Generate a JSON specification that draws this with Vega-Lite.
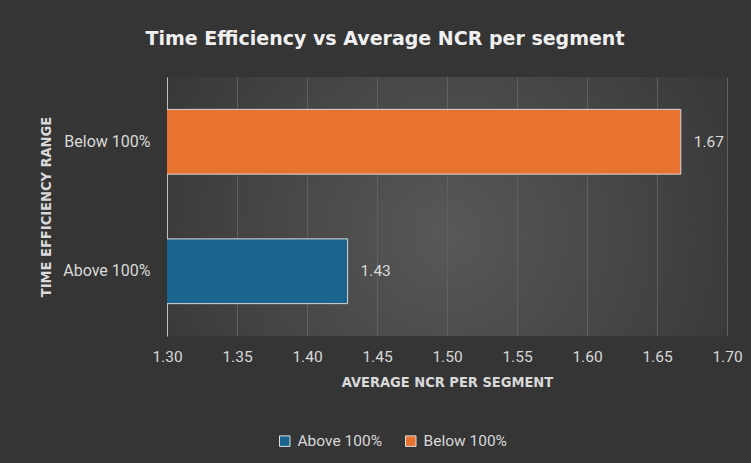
{
  "$schema": "https://vega.github.io/schema/vega-lite/v6.json",
  "width": 560,
  "height": 259,
  "autosize": {"type": "none"},
  "padding": {"left": 167, "top": 77, "right": 24, "bottom": 127},
  "background": "#353535",
  "config": {
    "font": "Roboto",
    "view": {
      "stroke": null,
      "fill": {
        "gradient": "radial",
        "x1": 0.5, "y1": 0.55, "r1": 0,
        "x2": 0.5, "y2": 0.55, "r2": 0.62,
        "stops": [
          {"offset": 0, "color": "#585858"},
          {"offset": 1, "color": "#353535"}
        ]
      }
    }
  },
  "title": {
    "text": "Time Efficiency vs Average NCR per segment",
    "font": "DejaVu Sans",
    "fontSize": 19,
    "fontWeight": "bold",
    "color": "#f0f0f0",
    "anchor": "middle",
    "dx": -62,
    "offset": 28
  },
  "data": {
    "values": [
      {"range": "Below 100%", "ncr": 1.667},
      {"range": "Above 100%", "ncr": 1.429}
    ]
  },
  "encoding": {
    "y": {
      "field": "range",
      "type": "nominal",
      "sort": ["Below 100%", "Above 100%"],
      "scale": {"paddingInner": 0.5, "paddingOuter": 0.25},
      "axis": {
        "title": "TIME EFFICIENCY RANGE",
        "titleFont": "DejaVu Sans Condensed, Roboto",
        "titleFontSize": 14.5,
        "titleFontWeight": "bold",
        "titleColor": "#d9d9d9",
        "titlePadding": 9,
        "labelFont": "Roboto",
        "labelFontSize": 16,
        "labelColor": "#d9d9d9",
        "labelPadding": 17,
        "ticks": false,
        "domain": true,
        "domainColor": "#bfbfbf",
        "domainWidth": 1,
        "grid": false
      }
    },
    "x": {
      "field": "ncr",
      "type": "quantitative",
      "scale": {"domain": [1.3, 1.7], "zero": false, "nice": false},
      "axis": {
        "title": "AVERAGE NCR PER SEGMENT",
        "titleFont": "DejaVu Sans Condensed, Roboto",
        "titleFontSize": 14.5,
        "titleFontWeight": "bold",
        "titleColor": "#d9d9d9",
        "titlePadding": 11,
        "values": [1.3, 1.35, 1.4, 1.45, 1.5, 1.55, 1.6, 1.65, 1.7],
        "format": ".2f",
        "labelFont": "Roboto",
        "labelFontSize": 15.5,
        "labelColor": "#d9d9d9",
        "labelPadding": 13,
        "labelFlush": false,
        "ticks": false,
        "domain": false,
        "grid": true,
        "gridColor": "#606060",
        "gridWidth": 1
      }
    }
  },
  "layer": [
    {
      "mark": {"type": "bar", "stroke": "#d8d8d8", "strokeWidth": 1, "clip": true},
      "encoding": {
        "color": {
          "field": "range",
          "type": "nominal",
          "scale": {"domain": ["Above 100%", "Below 100%"], "range": ["#1a6590", "#e8722f"]},
          "legend": {
            "title": null,
            "orient": "none",
            "legendX": 110,
            "legendY": 356,
            "direction": "horizontal",
            "symbolType": "square",
            "symbolSize": 110,
            "symbolStrokeColor": "#e0e0e0",
            "symbolStrokeWidth": 1,
            "symbolOpacity": 1,
            "labelFont": "Roboto",
            "labelFontSize": 15.5,
            "labelColor": "#d9d9d9",
            "labelOffset": 5,
            "columnPadding": 20
          }
        }
      }
    },
    {
      "mark": {"type": "text", "align": "left", "dx": 13, "fontSize": 15.5, "font": "Roboto", "color": "#d9d9d9"},
      "encoding": {
        "text": {"field": "ncr", "type": "quantitative", "format": ".2f"}
      }
    }
  ]
}
